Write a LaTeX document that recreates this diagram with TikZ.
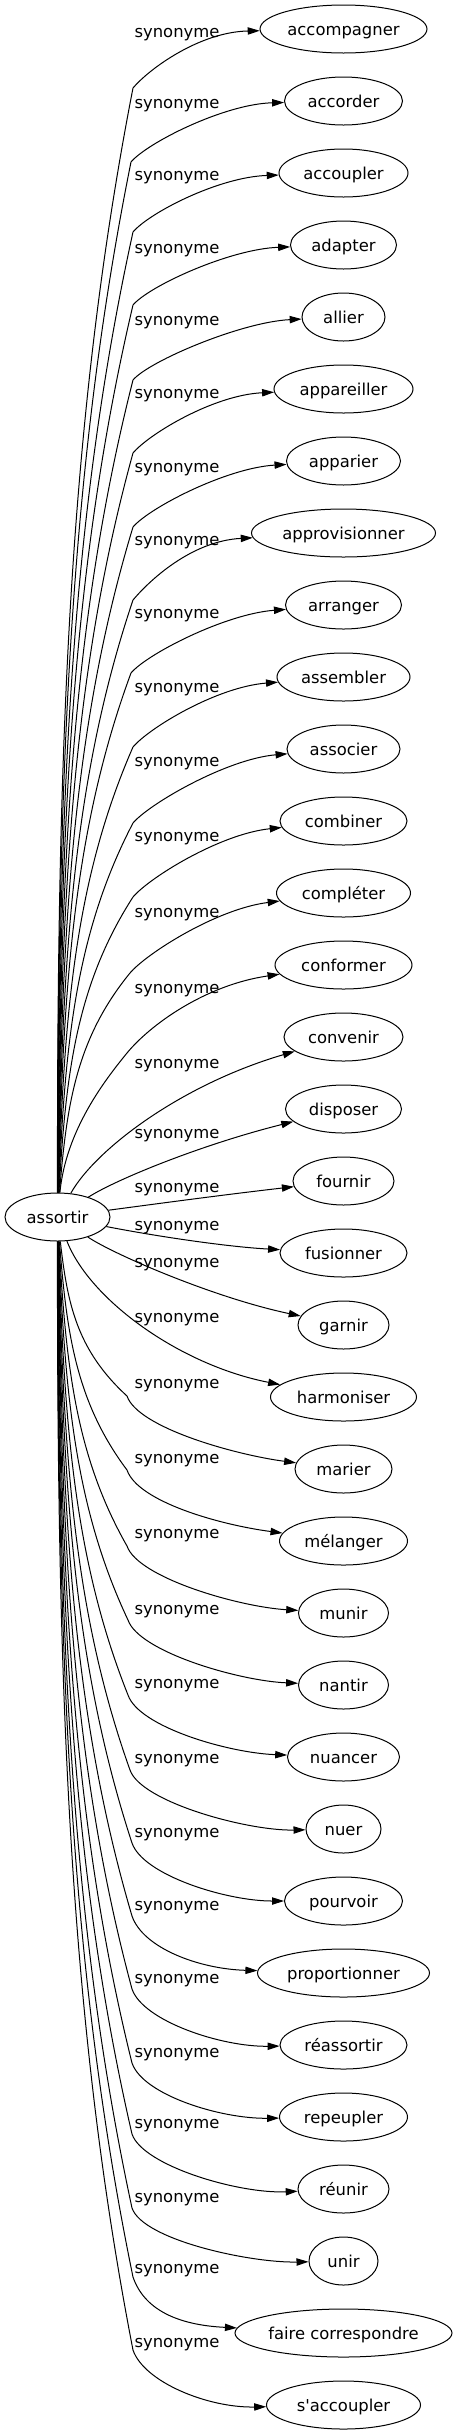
\documentclass[tikz,border=0pt]{standalone}
\usepackage{fontspec}
\setmainfont{DejaVu Sans}
\usetikzlibrary{arrows.meta,calc,shapes.geometric}
\newcommand\gvf{\fontsize{12.3pt}{14pt}\selectfont}
\tikzset{
  tgt/.style={ellipse, draw, line width=0.75pt, minimum height=36pt,
    minimum width=#1*0.75pt, inner sep=0pt, font=\gvf, text height=9pt, text depth=0pt},
  lab/.style={inner sep=0pt, font=\gvf, text height=7.5pt, text depth=0pt},
  edge/.style={line width=0.75pt, -{Triangle[length=9pt,width=5.5pt]}},
}
% #1 target, #2 start x, #3 bend x, #4 bend y, #5 end offset
\newcommand\topedge[5]{%
  \pgfmathsetmacro\gvLen{1193-#4}%
  \pgfmathsetmacro\gvCa{1193-0.4*\gvLen}%
  \pgfmathsetmacro\gvCbx{#2+0.15*(#3-#2)}%
  \pgfmathsetmacro\gvCby{#4+0.3*\gvLen}%
  \draw[edge] (c) .. controls (#2,\gvCa) and (\gvCbx,\gvCby) .. (#3,#4)
    .. controls +(16,-19) and ($(#1.west)+(-60,#5)$) .. (#1);
}
\newcommand\botedge[5]{%
  \pgfmathsetmacro\gvLen{#4-1241}%
  \pgfmathsetmacro\gvCa{1241+0.4*\gvLen}%
  \pgfmathsetmacro\gvCbx{#2+0.15*(#3-#2)}%
  \pgfmathsetmacro\gvCby{#4-0.3*\gvLen}%
  \draw[edge] (c) .. controls (#2,\gvCa) and (\gvCbx,\gvCby) .. (#3,#4)
    .. controls +(11,32) and ($(#1.west)+(-58,#5)$) .. (#1);
}
\begin{document}
\begin{tikzpicture}[x=0.75pt,y=-0.75pt]
\useasboundingbox (0,0) rectangle (458,2435);
\fill[white] (0,0) rectangle (458,2435);
% centre node
\node[tgt=105] (c) at (57.5,1217) {assortir};
% targets
\node[tgt=167] (t0) at (343.5,29) {accompagner};
\node[tgt=118] (t1) at (343.5,101) {accorder};
\node[tgt=129] (t2) at (343.5,173) {accoupler};
\node[tgt=106] (t3) at (343.5,245) {adapter};
\node[tgt=83] (t4) at (343.5,317) {allier};
\node[tgt=139] (t5) at (343.5,389) {appareiller};
\node[tgt=114] (t6) at (343.5,461) {apparier};
\node[tgt=184] (t7) at (343.5,533) {approvisionner};
\node[tgt=116] (t8) at (343.5,605) {arranger};
\node[tgt=133] (t9) at (343.5,677) {assembler};
\node[tgt=113] (t10) at (343.5,749) {associer};
\node[tgt=127] (t11) at (343.5,821) {combiner};
\node[tgt=134] (t12) at (343.5,893) {compléter};
\node[tgt=137] (t13) at (343.5,965) {conformer};
\node[tgt=119] (t14) at (343.5,1037) {convenir};
\node[tgt=116] (t15) at (343.5,1109) {disposer};
\node[tgt=101] (t16) at (343.5,1181) {fournir};
\node[tgt=127] (t17) at (343.5,1253) {fusionner};
\node[tgt=91] (t18) at (343.5,1325) {garnir};
\node[tgt=146] (t19) at (343.5,1397) {harmoniser};
\node[tgt=97] (t20) at (343.5,1469) {marier};
\node[tgt=128] (t21) at (343.5,1541) {mélanger};
\node[tgt=90] (t22) at (343.5,1613) {munir};
\node[tgt=90] (t23) at (343.5,1685) {nantir};
\node[tgt=112] (t24) at (343.5,1757) {nuancer};
\node[tgt=75] (t25) at (343.5,1829) {nuer};
\node[tgt=118] (t26) at (343.5,1901) {pourvoir};
\node[tgt=172] (t27) at (343.5,1973) {proportionner};
\node[tgt=127] (t28) at (343.5,2045) {réassortir};
\node[tgt=128] (t29) at (343.5,2117) {repeupler};
\node[tgt=91] (t30) at (343.5,2189) {réunir};
\node[tgt=69] (t31) at (343.5,2261) {unir};
\node[tgt=217] (t32) at (343.5,2333) {faire correspondre};
\node[tgt=154] (t33) at (343.5,2405) {s\textquotesingle accoupler};
% labels
\node[lab] (l0) at (177,32) {synonyme};
\node[lab] (l1) at (177,103) {synonyme};
\node[lab] (l2) at (177,175) {synonyme};
\node[lab] (l3) at (177,248) {synonyme};
\node[lab] (l4) at (177,320) {synonyme};
\node[lab] (l5) at (177,393) {synonyme};
\node[lab] (l6) at (177,467) {synonyme};
\node[lab] (l7) at (177,540) {synonyme};
\node[lab] (l8) at (177,613) {synonyme};
\node[lab] (l9) at (177,687) {synonyme};
\node[lab] (l10) at (177,761) {synonyme};
\node[lab] (l11) at (177,836) {synonyme};
\node[lab] (l12) at (177,912) {synonyme};
\node[lab] (l13) at (177,988) {synonyme};
\node[lab] (l14) at (177,1063) {synonyme};
\node[lab] (l15) at (177,1133) {synonyme};
\node[lab] (l16) at (177,1187) {synonyme};
\node[lab] (l17) at (177,1225) {synonyme};
\node[lab] (l18) at (177,1262) {synonyme};
\node[lab] (l19) at (177,1317) {synonyme};
\node[lab] (l20) at (177,1383) {synonyme};
\node[lab] (l21) at (177,1458) {synonyme};
\node[lab] (l22) at (177,1533) {synonyme};
\node[lab] (l23) at (177,1609) {synonyme};
\node[lab] (l24) at (177,1683) {synonyme};
\node[lab] (l25) at (177,1758) {synonyme};
\node[lab] (l26) at (177,1832) {synonyme};
\node[lab] (l27) at (177,1905) {synonyme};
\node[lab] (l28) at (177,1978) {synonyme};
\node[lab] (l29) at (177,2052) {synonyme};
\node[lab] (l30) at (177,2123) {synonyme};
\node[lab] (l31) at (177,2197) {synonyme};
\node[lab] (l32) at (177,2268) {synonyme};
\node[lab] (l33) at (177,2342) {synonyme};
% edges, upper fan
\topedge{t0}{57}{133}{88}{3}
\topedge{t1}{57.8}{131}{162}{3}
\topedge{t2}{58.6}{133}{232}{4}
\topedge{t3}{59.4}{133}{305}{4}
\topedge{t4}{60.2}{133}{380}{5}
\topedge{t5}{61}{133}{453}{6}
\topedge{t6}{61.8}{133}{527}{7}
\topedge{t7}{62.6}{133}{600}{8}
\topedge{t8}{63.4}{131}{673}{9}
\topedge{t9}{64.2}{133}{747}{10}
\topedge{t10}{65}{133}{823}{10}
\topedge{t11}{65.8}{133}{897}{13}
\topedge{t12}{66.6}{130}{973}{16}
% edges near the centre
\draw[edge] (c) .. controls (66,1130) and (105,1080) .. (127,1053)
  .. controls (150,1025) and (205,985) .. (t13);
\draw[edge] (c) .. controls (95,1150) and (180,1085) .. (t14);
\draw[edge] (c) .. controls (115,1180) and (200,1145) .. (t15);
\draw[edge] (c) .. controls (170,1202) and (230,1194) .. (t16);
\draw[edge] (c) .. controls (160,1237) and (230,1247) .. (t17);
\draw[edge] (c) .. controls (115,1255) and (215,1298) .. (t18);
\draw[edge] (c) .. controls (90,1300) and (180,1365) .. (t19);
% edges, lower fan
\botedge{t20}{67.4}{127}{1396}{-14}
\botedge{t21}{66.6}{127}{1470}{-16}
\botedge{t22}{65.8}{127}{1546}{-6}
\botedge{t23}{65}{128}{1620}{-4}
\botedge{t24}{64.2}{128}{1695}{-4}
\botedge{t25}{63.4}{130}{1770}{2}
\botedge{t26}{62.6}{132}{1843}{0}
\botedge{t27}{61.8}{132}{1916}{-4}
\botedge{t28}{61}{132}{1989}{2}
\botedge{t29}{60.2}{132}{2063}{2}
\botedge{t30}{59.4}{132}{2134}{5}
\botedge{t31}{58.6}{132}{2208}{2}
\botedge{t32}{57.8}{133}{2277}{-8}
\botedge{t33}{57}{133}{2350}{3}
\end{tikzpicture}
\end{document}
